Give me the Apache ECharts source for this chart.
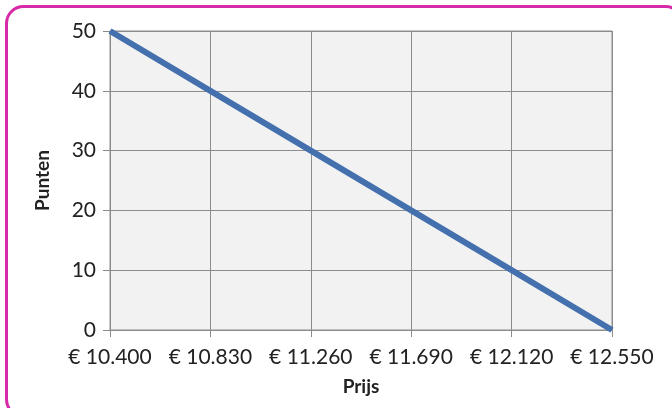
<!DOCTYPE html>
<html>
<head>
<meta charset="utf-8">
<script src="https://cdn.jsdelivr.net/npm/echarts@6/dist/echarts.min.js"></script>
<style>
  html, body { margin: 0; padding: 0; background: #fff; }
  #chart { width: 672px; height: 408px; }
</style>
</head>
<body>
<div id="chart"></div>
<script>
// prijs (x-as) en punten (y-as)
var prijzen = ['€ 10.400', '€ 10.830', '€ 11.260', '€ 11.690', '€ 12.120', '€ 12.550'];
var punten = [50, 40, 30, 20, 10, 0];

var chart = echarts.init(document.getElementById('chart'));
var font = 'Lato, "Open Sans", sans-serif';
var option = {
    backgroundColor: '#ffffff',
    animation: false,
    graphic: [
        {
            type: 'rect',
            shape: { x: 6.5, y: 6.5, width: 676, height: 410, r: 17 },
            style: { fill: 'none', stroke: '#d62aa8', lineWidth: 3 },
            z: 10
        }
    ],
    grid: {
        left: 110,
        right: 60,
        top: 31,
        bottom: 78,
        show: true,
        backgroundColor: '#f2f2f2',
        borderColor: '#8c8c8c',
        borderWidth: 1
    },
    xAxis: {
        type: 'category',
        data: prijzen,
        boundaryGap: false,
        name: 'Prijs',
        nameLocation: 'middle',
        nameGap: 47,
        nameTextStyle: { fontFamily: font, fontSize: 19, fontWeight: 'bold', color: '#222' },
        axisLine: { lineStyle: { color: '#8c8c8c' } },
        axisTick: { show: true, alignWithLabel: true, length: 7, lineStyle: { color: '#8c8c8c' } },
        axisLabel: { fontFamily: font, fontSize: 21, color: '#222', margin: 17, interval: 0 },
        splitLine: { show: true, lineStyle: { color: '#8c8c8c', width: 1 } }
    },
    yAxis: {
        type: 'value',
        min: 0,
        max: 50,
        interval: 10,
        name: 'Punten',
        nameLocation: 'middle',
        nameGap: 58,
        nameTextStyle: { fontFamily: font, fontSize: 19, fontWeight: 'bold', color: '#222' },
        axisLine: { show: true, lineStyle: { color: '#8c8c8c' } },
        axisTick: { show: true, length: 7, lineStyle: { color: '#8c8c8c' } },
        axisLabel: { fontFamily: font, fontSize: 21, color: '#222', margin: 14 },
        splitLine: { show: true, lineStyle: { color: '#8c8c8c', width: 1 } }
    },
    series: [
        {
            type: 'line',
            data: punten,
            symbol: 'none',
            lineStyle: { color: '#4470ae', width: 6, cap: 'butt' }
        }
    ]
};
chart.setOption(option);
</script>
</body>
</html>
